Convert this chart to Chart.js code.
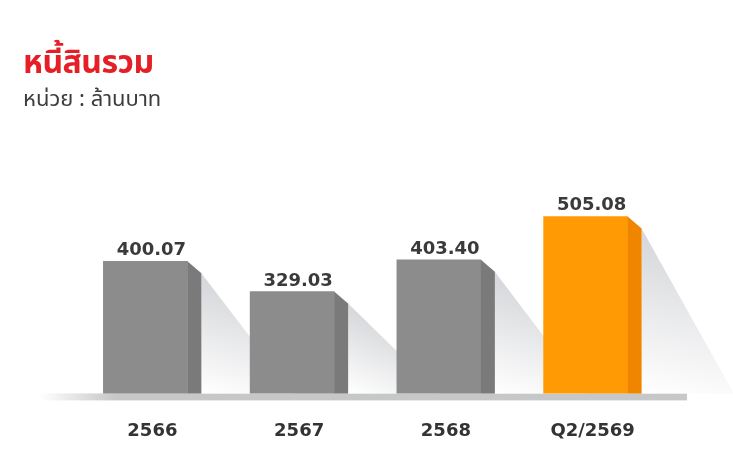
<!DOCTYPE html>
<html>
<head>
<meta charset="utf-8">
<script src="https://cdn.jsdelivr.net/npm/chart.js@4.4.1/dist/chart.umd.min.js"></script>
<style>
  html, body { margin: 0; padding: 0; background: #fff; }
  #wrap { position: relative; width: 733px; height: 470px; overflow: hidden; }
  #title { position: absolute; left: 23px; top: 39px; font: bold 32px "Noto Sans Thai", "Noto Sans", sans-serif; color: #e41f26; white-space: nowrap; letter-spacing: -0.5px; }
  #unit { position: absolute; left: 23px; top: 83px; font: 22px "Noto Sans Thai", "Noto Sans", sans-serif; color: #3d3d3d; white-space: nowrap; }
  canvas { position: absolute; left: 0; top: 0; }
</style>
</head>
<body>
<div id="wrap">
  <canvas id="debtChart" width="733" height="470"></canvas>
  <div id="title">หนี้สินรวม</div>
  <div id="unit">หน่วย : ล้านบาท</div>
</div>
<script>
// DATA
const categories = ['2566', '2567', '2568', 'Q2/2569'];
const values = [400.07, 329.03, 403.40, 505.08];
const valueLabels = ['400.07', '329.03', '403.40', '505.08'];

// styles
const highlightIndex = 3;
const frontGray = '#8c8c8c', sideGray = '#7a7a7a';
const frontOrange = '#ff9a05', sideOrange = '#f08500';
const barW = 84, sideW = 14, sideDrop = 12;

document.addEventListener('DOMContentLoaded', () => {
    const canvas = document.getElementById('debtChart');
    const ctx = canvas.getContext('2d');

    // floor strip + soft shadows behind bars
    const backdrop = {
        id: 'backdrop',
        beforeDatasetsDraw(chart) {
            const c = chart.ctx;
            const area = chart.chartArea;
            const base = area.bottom;

            const fx0 = area.left - 32, fx1 = area.right + 28;
            const floorGrad = c.createLinearGradient(fx0, 0, fx0 + 75, 0);
            floorGrad.addColorStop(0, 'rgba(198,199,201,0)');
            floorGrad.addColorStop(1, 'rgba(198,199,201,1)');
            c.save();
            c.fillStyle = floorGrad;
            c.fillRect(fx0, base, fx1 - fx0, 7);

            chart.getDatasetMeta(0).data.forEach(bar => {
                const sx = bar.x + barW / 2 + sideW;
                const sy = bar.y + sideDrop;
                const g = c.createLinearGradient(sx + 30, sy + 20, sx, base);
                g.addColorStop(0, 'rgba(216,217,220,1)');
                g.addColorStop(1, 'rgba(255,255,255,1)');
                c.fillStyle = g;
                c.beginPath();
                c.moveTo(sx, sy);
                c.lineTo(sx + 92, base);
                c.lineTo(sx, base);
                c.closePath();
                c.fill();
            });
            c.restore();
        },
        afterDatasetsDraw(chart) {
            const c = chart.ctx;
            const base = chart.chartArea.bottom;
            c.save();
            chart.getDatasetMeta(0).data.forEach((bar, i) => {
                const rx = bar.x + barW / 2;
                c.fillStyle = i === highlightIndex ? sideOrange : sideGray;
                c.beginPath();
                c.moveTo(rx, bar.y);
                c.lineTo(rx + sideW, bar.y + sideDrop);
                c.lineTo(rx + sideW, base);
                c.lineTo(rx, base);
                c.closePath();
                c.fill();

                // value label
                c.fillStyle = '#3a3a3a';
                c.font = 'bold 18px "DejaVu Sans", sans-serif';
                c.textAlign = 'center';
                c.textBaseline = 'alphabetic';
                c.fillText(valueLabels[i], bar.x + 6, bar.y - 6);
            });
            c.restore();
        }
    };

    new Chart(ctx, {
        type: 'bar',
        data: {
            labels: categories,
            datasets: [{
                data: values,
                backgroundColor: values.map((v, i) => i === highlightIndex ? frontOrange : frontGray),
                borderWidth: 0,
                barThickness: barW
            }]
        },
        options: {
            responsive: false,
            animation: false,
            layout: { padding: { left: 72, right: 74, top: 176, bottom: 9 } },
            plugins: {
                legend: { display: false },
                tooltip: { enabled: false },
                title: { display: false }
            },
            scales: {
                x: {
                    grid: { display: false },
                    border: { display: false },
                    ticks: {
                        color: '#333',
                        font: { family: '"DejaVu Sans", sans-serif', size: 18, weight: 'bold' },
                        padding: 19,
                        labelOffset: 7
                    }
                },
                y: {
                    display: false,
                    min: 90,
                    max: 600
                }
            }
        },
        plugins: [backdrop]
    });
});
</script>
</body>
</html>
